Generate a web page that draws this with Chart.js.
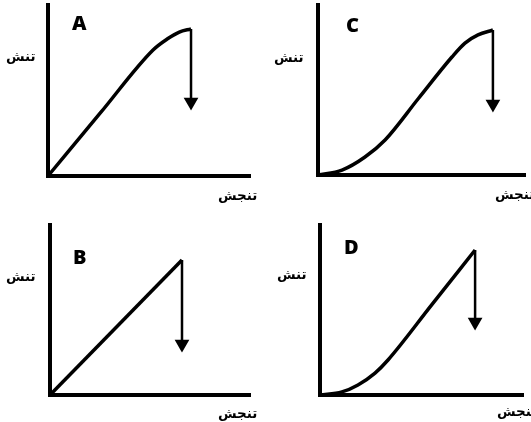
<!DOCTYPE html>
<html>
<head>
<meta charset="utf-8">
<script src="https://cdn.jsdelivr.net/npm/chart.js@4/dist/chart.umd.min.js"></script>
<style>
  body { margin: 0; background: #fff; }
  #wrap { position: relative; width: 531px; height: 422px; overflow: hidden; }
  canvas { position: absolute; }
  .tag { position: absolute; font: 800 20px "Open Sans", "DejaVu Sans", sans-serif; line-height: 20px; color: #000; }
  .fa { position: absolute; font: bold 13.5px "DejaVu Sans", sans-serif; line-height: 16px; color: #000; direction: rtl; white-space: nowrap; }
</style>
</head>
<body>
<div id="wrap"></div>
<script>
// stress-strain curves, both axes run 0..10 (arbitrary units)
var axisMax = 10;

var strainA = [0, 2.6, 5.2, 5.9, 6.5, 7.08];
var stressA = [0, 3.7, 7.37, 8.01, 8.42, 8.6];
var dropA   = [8.6, 4.33];

var strainB = [0, 6.6];
var stressB = [0, 7.94];
var dropB   = [7.94, 3.0];

var strainC = [0, 1.16, 2.27, 3.24, 4.85, 6.47, 7.1, 7.73, 8.45];
var stressC = [0, 0.29, 1.06, 2.06, 4.5, 6.94, 7.76, 8.24, 8.53];
var dropC   = [8.53, 4.18];

var strainD = [0, 1.08, 1.87, 2.71, 3.35, 5.5, 7.64];
var stressD = [0, 0.18, 0.59, 1.29, 2.06, 5.3, 8.53];
var dropD   = [8.53, 4.29];

var yLabel = 'تنش';
var xLabel = 'تنجش';

// plot area of each panel on the page (left, top, right, bottom)
var panels = [
    {name: 'A', strain: strainA, stress: stressA, drop: dropA, area: [48, 5, 250, 176],   tag: [72, 13],  yl: [6, 48],   xl: [218, 187]},
    {name: 'B', strain: strainB, stress: stressB, drop: dropB, area: [50, 225, 250, 395], tag: [73, 247], yl: [6, 268],  xl: [218, 405]},
    {name: 'C', strain: strainC, stress: stressC, drop: dropC, area: [318, 5, 525, 175],  tag: [346, 15], yl: [274, 49], xl: [495, 186]},
    {name: 'D', strain: strainD, stress: stressD, drop: dropD, area: [320, 225, 523, 395], tag: [344, 237], yl: [277, 266], xl: [497, 403]}
];

var pad = 12;
var wrap = document.getElementById('wrap');

function addText(cls, txt, pos){
    var el = document.createElement('div');
    el.className = cls;
    el.textContent = txt;
    el.style.left = pos[0] + 'px';
    el.style.top = pos[1] + 'px';
    wrap.appendChild(el);
}

function axis(){
    return {
        type: 'linear', min: 0, max: axisMax,
        grid: {display: false, drawTicks: false, tickLength: 0},
        ticks: {display: false},
        border: {display: true, color: '#000', width: 4}
    };
}

panels.forEach(function(p){
    var a = p.area;
    var cv = document.createElement('canvas');
    cv.width = a[2] - a[0] + pad * 2;
    cv.height = a[3] - a[1] + pad * 2;
    cv.style.left = (a[0] - pad) + 'px';
    cv.style.top = (a[1] - pad) + 'px';
    wrap.appendChild(cv);

    var peak = p.strain[p.strain.length - 1];

    new Chart(cv, {
        type: 'line',
        data: {
            datasets: [
                {
                    data: p.strain.map(function(x, i){ return {x: x, y: p.stress[i]}; }),
                    borderColor: '#000',
                    borderWidth: 3.5,
                    pointRadius: 0,
                    cubicInterpolationMode: 'monotone',
                    clip: false
                },
                {
                    // fracture arrow
                    data: [{x: peak, y: p.drop[0]}, {x: peak, y: p.drop[1]}],
                    borderColor: '#000',
                    backgroundColor: '#000',
                    borderWidth: 2.5,
                    pointRadius: [0, 6],
                    pointStyle: 'triangle',
                    pointRotation: 180,
                    pointBorderColor: '#000',
                    pointBackgroundColor: '#000',
                    clip: false
                }
            ]
        },
        options: {
            responsive: false,
            animation: false,
            events: [],
            layout: {padding: pad},
            plugins: {legend: {display: false}, tooltip: {enabled: false}},
            scales: {x: axis(), y: axis()}
        }
    });

    addText('tag', p.name, p.tag);
    addText('fa', yLabel, p.yl);
    addText('fa', xLabel, p.xl);
});
</script>
</body>
</html>
